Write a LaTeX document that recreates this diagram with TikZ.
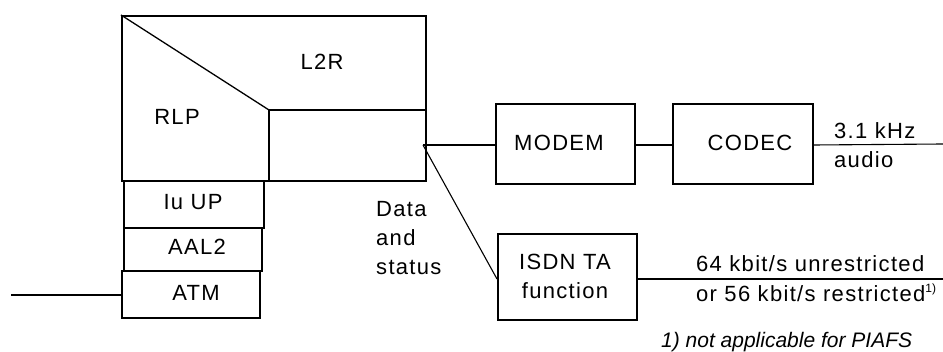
\documentclass[tikz,border=0pt]{standalone}
\usepackage{fontspec}
\setmainfont[LetterSpace=6]{Liberation Sans}
\newfontfamily\plainsans{Liberation Sans}
\begin{document}
\begin{tikzpicture}[x=1pt,y=-1pt,
  box/.style={draw, line width=1.8pt, inner sep=0pt, anchor=north west},
  wire/.style={line width=1.1pt},
  inner/.style={line width=1.6pt},
  lbl/.style={inner sep=0pt, font=\fontsize{22}{29}\selectfont},
  rate/.style={inner sep=0pt, anchor=base west, font=\fontsize{22}{29}\selectfont}]
\useasboundingbox (0,0) rectangle (943,352);
% main RLP / L2R box
\node[box, minimum width=304pt, minimum height=165pt] (main) at (121,15) {};
\coordinate (split) at (269,110);
\draw[wire, line width=1.3pt] (main.north west) -- (split);
\draw[inner] (split) -- (main.east |- split);
\draw[inner] (split) -- (split |- main.south);
\node[lbl] (l2r) at (322,62) {L2R};
\node[lbl] (rlp) at (177,117) {RLP};
% stack
\node[box, minimum width=140pt, minimum height=47pt] (iuup) at (123,180) {};
\node[lbl] (iuupt) at (193,202) {Iu UP};
\node[box, minimum width=138pt, minimum height=43pt] (aal2) at (123,227) {};
\node[lbl] (aal2t) at (197,247) {AAL2};
\node[box, minimum width=138pt, minimum height=47pt] (atm) at (121,270) {};
\node[lbl] (atmt) at (196,293) {ATM};
\coordinate (atmin) at (11,295);
\draw[wire] (atmin) -- (atm.west |- atmin);
% tap point
\coordinate (tap) at (423,145);
\node[lbl, anchor=north west, align=left] (data) at (376,201) {Data\\and\\status};
% right side boxes
\node[box, minimum width=139pt, minimum height=80pt] (modem) at (495,103) {};
\node[lbl] (modemt) at (559,143) {MODEM};
\node[box, minimum width=140pt, minimum height=80pt] (codec) at (672,103) {};
\node[lbl] (codect) at (750,143) {CODEC};
\node[box, minimum width=139pt, minimum height=86pt] (isdn) at (497,233) {};
\node[lbl, align=center] (isdnt) at (565,276) {ISDN TA\\function};
% connectors
\coordinate (audioend) at (943,144);
\coordinate (isdnend) at (943,279);
\draw[wire] (tap) -- (modem.west |- tap);
\draw[wire] (modem.east |- tap) -- (codec.west |- tap);
\draw[wire] (codec.east |- tap) -- (audioend);
\draw[wire] (tap) -- (isdn.west |- isdnend);
\draw[wire] (isdn.east |- isdnend) -- (isdnend);
% labels
\node[rate] (khz) at (834,139) {3.1 kHz};
\node[rate] (audio) at (834,168) {audio};
\node[rate] (r64) at (696,272) {64 kbit/s unrestricted};
\node[rate] (r56) at (696,302) {or 56 kbit/s restricted\raisebox{0.8ex}{\plainsans\fontsize{12}{12}\selectfont 1)}};
\node[rate, font=\fontsize{21}{22}\selectfont\plainsans\itshape] (foot) at (661,348) {1) not applicable for PIAFS};
\end{tikzpicture}
\end{document}
